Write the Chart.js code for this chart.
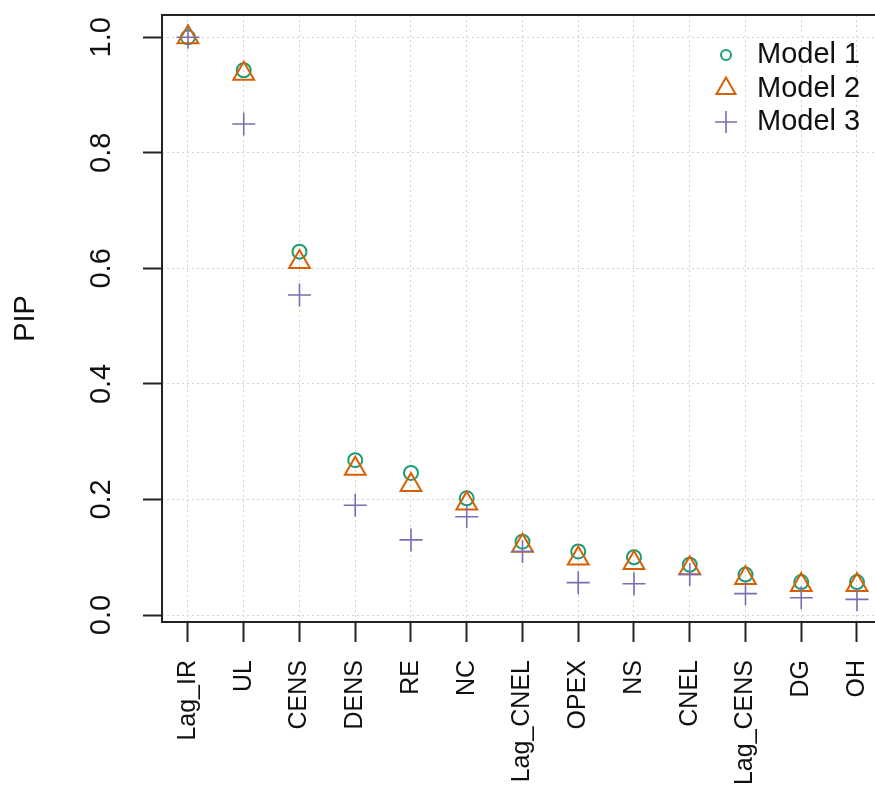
<!DOCTYPE html>
<html>
<head>
<meta charset="utf-8">
<script src="https://cdn.jsdelivr.net/npm/chart.js@4"></script>
<style>
  body { margin: 0; background: #fff; }
  canvas { display: block; background: #fff; }
</style>
</head>
<body>
<canvas id="myChart" width="875" height="787"></canvas>
<script>
const categories = ['Lag_IR', 'UL', 'CENS', 'DENS', 'RE', 'NC', 'Lag_CNEL', 'OPEX', 'NS', 'CNEL', 'Lag_CENS', 'DG', 'OH'];
const model1 = [1.0, 0.943, 0.629, 0.268, 0.246, 0.202, 0.127, 0.110, 0.100, 0.087, 0.070, 0.057, 0.057];
const model2 = [1.0, 0.937, 0.611, 0.253, 0.225, 0.193, 0.120, 0.098, 0.090, 0.081, 0.064, 0.052, 0.052];
const model3 = [1.0, 0.850, 0.554, 0.190, 0.130, 0.170, 0.110, 0.056, 0.054, 0.070, 0.037, 0.030, 0.027];
const yTicks = [0, 0.2, 0.4, 0.6, 0.8, 1.0];

const FONT = '"Liberation Sans", Arial, Helvetica, sans-serif';

const toPoints = vals => vals.map((v, i) => ({ x: i, y: v }));

// R-style box: top, left and bottom lines (right side falls off the picture)
const boxLines = {
  id: 'boxLines',
  afterDatasetsDraw(chart) {
    const { ctx, chartArea: a } = chart;
    ctx.save();
    ctx.strokeStyle = '#222';
    ctx.lineWidth = 2;
    ctx.beginPath();
    ctx.moveTo(a.right + 2, a.top);
    ctx.lineTo(a.left, a.top);
    ctx.lineTo(a.left, a.bottom);
    ctx.lineTo(a.right + 2, a.bottom);
    ctx.stroke();
    ctx.restore();
  }
};

// legend in the top right corner of the plot
const cornerLegend = {
  id: 'cornerLegend',
  afterDatasetsDraw(chart) {
    const { ctx, chartArea: a } = chart;
    ctx.save();
    chart.data.datasets.forEach((ds, i) => {
      const y = a.top + 40 + i * 33.5;
      ctx.strokeStyle = ds.borderColor;
      ctx.fillStyle = 'rgba(0,0,0,0)';
      ctx.lineWidth = ds.borderWidth;
      Chart.helpers.drawPoint(ctx, {
        pointStyle: ds.pointStyle,
        radius: ds.legendRadius,
        borderWidth: ds.borderWidth,
        rotation: 0
      }, a.right - 149, y);
      ctx.fillStyle = '#111';
      ctx.font = '29px ' + FONT;
      ctx.textBaseline = 'middle';
      ctx.textAlign = 'left';
      ctx.fillText(ds.label, a.right - 118, y);
    });
    ctx.restore();
  }
};

const ctx = document.getElementById('myChart').getContext('2d');
new Chart(ctx, {
  type: 'scatter',
  data: {
    datasets: [{
      label: 'Model 1',
      data: toPoints(model1),
      pointStyle: 'circle',
      pointRadius: 7,
      pointHoverRadius: 7,
      legendRadius: 5,
      borderColor: '#1B9E77',
      backgroundColor: 'rgba(0,0,0,0)',
      borderWidth: 2,
      order: 3
    }, {
      label: 'Model 2',
      data: toPoints(model2),
      pointStyle: 'triangle',
      pointRadius: 12,
      pointHoverRadius: 12,
      legendRadius: 11,
      borderColor: '#D95F02',
      backgroundColor: 'rgba(0,0,0,0)',
      borderWidth: 2,
      order: 2
    }, {
      label: 'Model 3',
      data: toPoints(model3),
      pointStyle: 'cross',
      pointRadius: 11.5,
      pointHoverRadius: 11.5,
      legendRadius: 11,
      borderColor: '#7570B3',
      backgroundColor: 'rgba(0,0,0,0)',
      borderWidth: 1.6,
      order: 1
    }]
  },
  options: {
    responsive: false,
    animation: false,
    devicePixelRatio: 1,
    layout: { autoPadding: false, padding: { top: 15, right: 0, bottom: 0, left: 0 } },
    plugins: {
      legend: { display: false },
      tooltip: { enabled: false }
    },
    scales: {
      x: {
        type: 'linear',
        min: -0.466,
        max: 12.323,
        afterBuildTicks: scale => { scale.ticks = categories.map((c, i) => ({ value: i })); },
        afterFit: scale => {
          scale.height = 165;
          scale.paddingLeft = 0;
          scale.paddingRight = 0;
        },
        ticks: {
          callback: v => categories[v],
          minRotation: 90,
          maxRotation: 90,
          autoSkip: false,
          padding: 18,
          color: '#111',
          font: { family: FONT, size: 25 }
        },
        grid: {
          color: '#d3d3d3',
          lineWidth: 1,
          tickLength: 20,
          tickColor: '#222',
          tickWidth: 2,
          tickBorderDash: []
        },
        border: { display: false, dash: [2, 3] }
      },
      y: {
        min: -0.0121,
        max: 1.0386,
        afterBuildTicks: scale => { scale.ticks = yTicks.map(v => ({ value: v })); },
        afterFit: scale => {
          scale.width = 162;
          scale.paddingTop = 0;
          scale.paddingBottom = 0;
        },
        ticks: {
          callback: v => v.toFixed(1),
          minRotation: 90,
          maxRotation: 90,
          crossAlign: 'center',
          padding: 20.5,
          color: '#111',
          font: { family: FONT, size: 29 }
        },
        grid: {
          color: '#d3d3d3',
          lineWidth: 1,
          tickLength: 19,
          tickColor: '#222',
          tickWidth: 2,
          tickBorderDash: []
        },
        border: { display: false, dash: [2, 3] },
        title: {
          display: true,
          text: 'PIP',
          color: '#111',
          font: { family: FONT, size: 29, lineHeight: 1.2 },
          padding: { top: 9, bottom: 0 }
        }
      }
    }
  },
  plugins: [boxLines, cornerLegend]
});
</script>
</body>
</html>
